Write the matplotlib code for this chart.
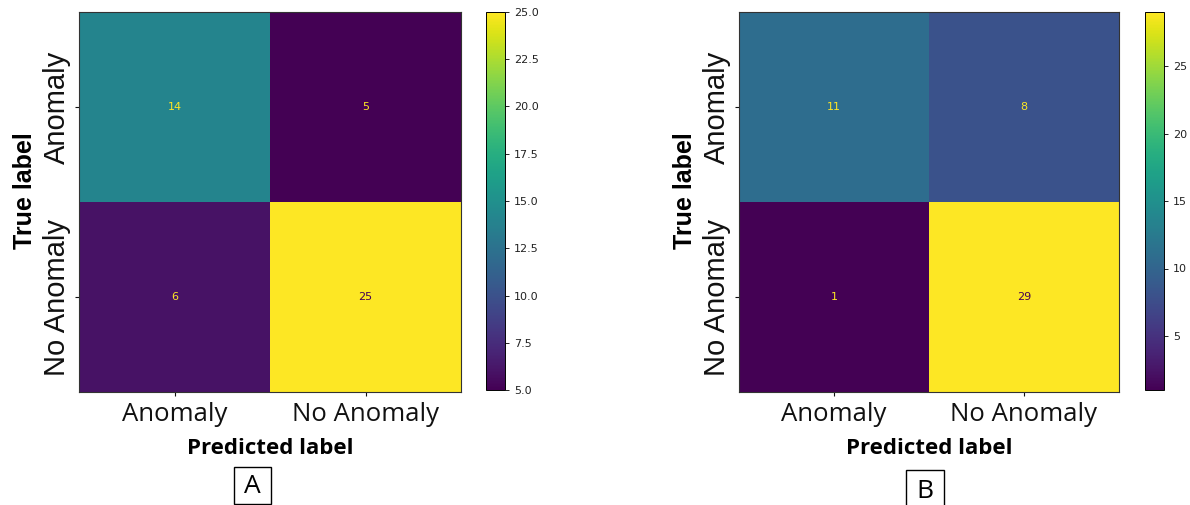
import matplotlib
matplotlib.use("Agg")
import matplotlib.pyplot as plt
import numpy as np
from matplotlib.patches import Rectangle

classes = ["Anomaly", "No Anomaly"]
cm_a = [[14, 5], [6, 25]]
cm_b = [[11, 8], [1, 29]]
cbar_ticks_a = [5.0, 7.5, 10.0, 12.5, 15.0, 17.5, 20.0, 22.5, 25.0]
cbar_ticks_b = [5, 10, 15, 20, 25]
panel_names = ["A", "B"]

W, H = 1190, 505
fig = plt.figure(figsize=(W / 100, H / 100), dpi=100)
cmap = plt.get_cmap("viridis")


def fx(px):
    return px / W


def fy(py):
    return 1 - py / H


def draw(cm, ax_px, cb_px, ticks, fmt, name, box_px):
    cm = np.array(cm)
    x0, x1, y0, y1 = ax_px
    ax = fig.add_axes([fx(x0), fy(y1), fx(x1 - x0), (y1 - y0) / H])
    vmin, vmax = cm.min(), cm.max()
    im = ax.imshow(cm, cmap=cmap, vmin=vmin, vmax=vmax, aspect="auto")
    thresh = (vmin + vmax) / 2
    for i in range(cm.shape[0]):
        for j in range(cm.shape[1]):
            col = cmap(0.0) if cm[i, j] >= thresh else cmap(1.0)
            ax.text(j, i, str(cm[i, j]), ha="center", va="center",
                    color=col, fontsize=8)
    ax.set_xticks(range(len(classes)))
    ax.set_yticks(range(len(classes)))
    ax.set_xticklabels(classes, fontfamily="Open Sans", fontsize=18.5)
    ax.set_yticklabels(classes, fontfamily="Liberation Sans", fontsize=21,
                       rotation=90, va="center")
    ax.tick_params(axis="x", pad=4, length=3, width=0.8, colors="#111111")
    ax.tick_params(axis="y", pad=3, length=3, width=0.8, colors="#111111")
    for s in ax.spines.values():
        s.set_linewidth(0.8)
        s.set_color("#333333")
    ax.set_xlabel("Predicted label", fontfamily="Open Sans",
                  fontweight="bold", fontsize=16, labelpad=8)
    ax.set_ylabel("True label", fontfamily="Liberation Sans",
                  fontweight="bold", fontsize=18)
    ax.yaxis.set_label_coords(-0.11, 0.53)

    c0, c1 = cb_px
    cax = fig.add_axes([fx(c0), fy(390), fx(c1 - c0), (390 - 12) / H])
    cb = fig.colorbar(im, cax=cax, ticks=ticks)
    cb.ax.set_yticklabels([fmt.format(t) for t in ticks])
    cb.ax.tick_params(labelsize=8, length=3, width=0.7, colors="#222222")
    cb.outline.set_linewidth(0.7)

    bx0, bx1, by0, by1 = box_px
    fig.patches.append(Rectangle((fx(bx0), fy(by1)), fx(bx1 - bx0),
                                 (by1 - by0) / H, transform=fig.transFigure,
                                 fill=False, edgecolor="black", linewidth=1.0))
    fig.text(fx((bx0 + bx1) / 2), fy((by0 + by1) / 2 + 1), name,
             ha="center", va="center", fontfamily="Open Sans", fontsize=19)


draw(cm_a, (79, 461, 12, 392), (486, 505), cbar_ticks_a, "{:.1f}",
     panel_names[0], (234, 271, 467, 504))
draw(cm_b, (739, 1119, 12, 392), (1145, 1164), cbar_ticks_b, "{:d}",
     panel_names[1], (906, 944, 470, 512))

fig.savefig("out.png", dpi=100)
